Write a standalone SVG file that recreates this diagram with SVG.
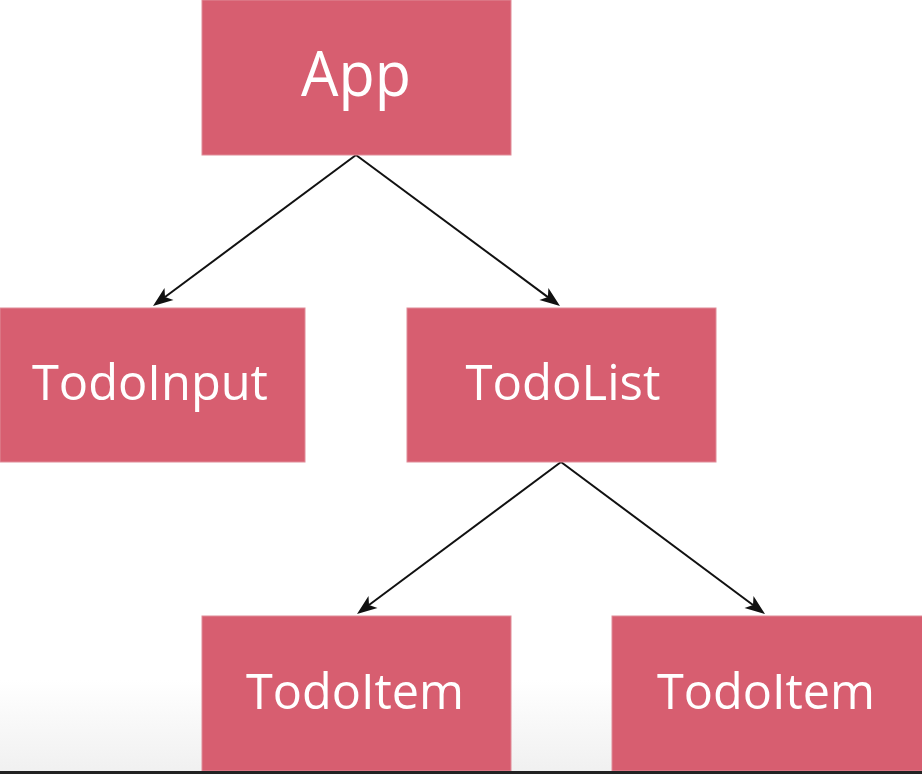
<svg xmlns="http://www.w3.org/2000/svg" width="922" height="774" viewBox="0 0 922 774">
<style>
.box{fill:#d75e70;stroke:#e08c98;stroke-width:1}
.lbl{fill:#ffffff;font-family:"Open Sans","Noto Sans",sans-serif;text-anchor:middle}
.conn{stroke:#111;stroke-width:2;fill:none}
.head{fill:#111;stroke:none}
</style>
<defs>
<linearGradient id="bg" x1="0" y1="0" x2="0" y2="1">
<stop offset="0" stop-color="#ffffff"/>
<stop offset="1" stop-color="#f0f0f0"/>
</linearGradient>
</defs>
<rect x="0" y="0" width="922" height="774" fill="#ffffff"/>
<rect x="0" y="680" width="922" height="94" fill="url(#bg)"/>
<g id="connectors">
<line class="conn" x1="356" y1="155" x2="165" y2="297"/>
<polygon class="head" points="153,306 173.5,300.1 165,297 164.5,288.1"/>
<line class="conn" x1="356" y1="155" x2="547.9" y2="297.1"/>
<polygon class="head" points="560,306 539.4,300.1 547.9,297.1 548.4,288.1"/>
<line class="conn" x1="561" y1="462" x2="369" y2="605"/>
<polygon class="head" points="357,614 377.5,608.1 369,605 368.5,596.1"/>
<line class="conn" x1="561" y1="462" x2="753" y2="605"/>
<polygon class="head" points="765,614 744.5,608.1 753,605 753.5,596.1"/>
</g>
<g id="app">
<rect class="box" x="202" y="0" width="309" height="155"/>
<text class="lbl" x="356" y="96" font-size="62" textLength="110" lengthAdjust="spacingAndGlyphs">App</text>
</g>
<g id="todoinput">
<rect class="box" x="0" y="308" width="305" height="154"/>
<text class="lbl" x="150" y="400" font-size="50" textLength="236" lengthAdjust="spacingAndGlyphs">TodoInput</text>
</g>
<g id="todolist">
<rect class="box" x="407" y="308" width="309" height="154"/>
<text class="lbl" x="563" y="400" font-size="50" textLength="195" lengthAdjust="spacingAndGlyphs">TodoList</text>
</g>
<g id="todoitem1">
<rect class="box" x="202" y="616" width="309" height="155"/>
<text class="lbl" x="355" y="709" font-size="50" textLength="218" lengthAdjust="spacingAndGlyphs">TodoItem</text>
</g>
<g id="todoitem2">
<rect class="box" x="612" y="616" width="312" height="155"/>
<text class="lbl" x="766" y="709" font-size="50" textLength="218" lengthAdjust="spacingAndGlyphs">TodoItem</text>
</g>
<rect x="0" y="771" width="922" height="3" fill="#222"/>
</svg>
